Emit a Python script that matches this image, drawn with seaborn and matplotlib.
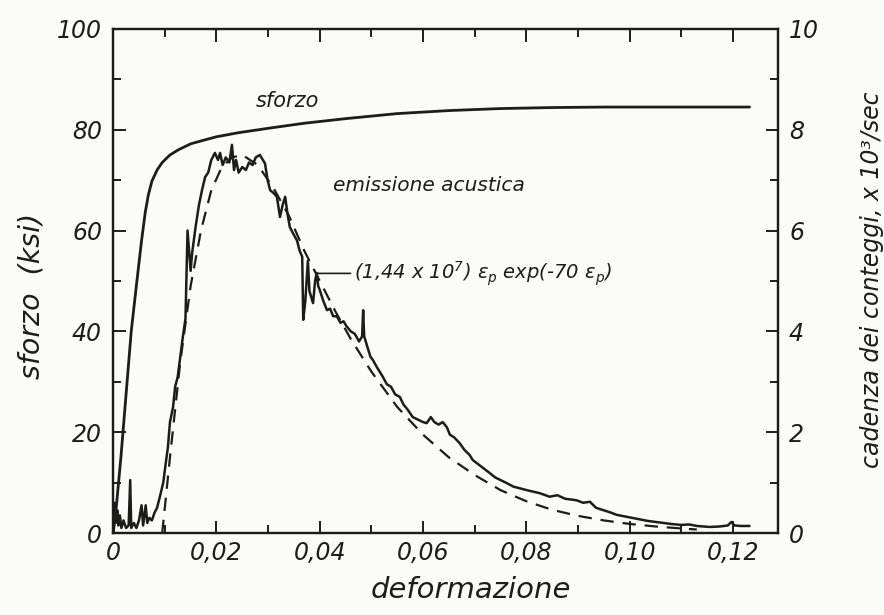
import matplotlib
matplotlib.use("Agg")
import matplotlib.pyplot as plt
from matplotlib.ticker import MultipleLocator, FixedLocator, FixedFormatter
import numpy as np
import pandas as pd
import seaborn as sns

# --- stress-strain curve (left axis, ksi) ---
stress_strain = [0.0, 0.0005, 0.0015, 0.0027, 0.0035, 0.0046, 0.0055, 0.0062,
                 0.0068, 0.0075, 0.0085, 0.0095, 0.011, 0.0126, 0.015, 0.0178,
                 0.020, 0.0242, 0.0308, 0.0371, 0.045, 0.055, 0.065, 0.075,
                 0.085, 0.095, 0.105, 0.115, 0.1232]
stress_ksi = [0.0, 4.0, 15.0, 30.0, 40.0, 50.0, 58.0, 63.5,
              67.0, 69.8, 72.0, 73.5, 75.0, 76.0, 77.2, 78.0,
              78.6, 79.4, 80.4, 81.3, 82.2, 83.2, 83.8, 84.2,
              84.4, 84.5, 84.5, 84.5, 84.5]

# --- measured acoustic emission count rate (right axis, x10^3/sec) ---
ae_strain = [0.0000, 0.0003, 0.0005, 0.0008, 0.0010, 0.0013, 0.0016, 0.0020,
             0.0025, 0.0030, 0.0033, 0.0035, 0.0040, 0.0045, 0.0050, 0.0055,
             0.0058, 0.0063, 0.0066, 0.0070, 0.0075, 0.0080, 0.0085, 0.0090,
             0.0097, 0.0102, 0.0106, 0.0110, 0.0116, 0.0120, 0.0125, 0.0130,
             0.0135, 0.0140, 0.0144, 0.0150, 0.0153, 0.0160, 0.0166, 0.0172,
             0.0178, 0.0184, 0.0190, 0.0197, 0.0203, 0.0207, 0.0212, 0.0218,
             0.0225, 0.0230, 0.0234, 0.0238, 0.0243, 0.0250, 0.0257, 0.0263,
             0.0270, 0.0276, 0.0284, 0.0290, 0.0294, 0.0299, 0.0304, 0.0310,
             0.0317, 0.0323, 0.0328, 0.0333, 0.0338, 0.0342, 0.0348, 0.0356,
             0.0361, 0.0366, 0.0368, 0.0372, 0.0377, 0.0380, 0.0387, 0.0391,
             0.0394, 0.0397, 0.0400, 0.0407, 0.0414, 0.0420, 0.0426, 0.0433,
             0.0440, 0.0446, 0.0452, 0.0460, 0.0468, 0.0476, 0.0482, 0.0484,
             0.0486, 0.0492, 0.0498, 0.0503, 0.0510, 0.0516, 0.0522, 0.0530,
             0.0538, 0.0546, 0.0555, 0.0562, 0.0570, 0.0580, 0.0590, 0.0600,
             0.0607, 0.0615, 0.0622, 0.0630, 0.0638, 0.0646, 0.0652, 0.0660,
             0.0671, 0.0680, 0.0690, 0.0696, 0.0705, 0.0715, 0.0729, 0.0740,
             0.0750, 0.0762, 0.0775, 0.0790, 0.0805, 0.0826, 0.0845, 0.0860,
             0.0875, 0.0897, 0.0910, 0.0923, 0.0935, 0.0950, 0.0965, 0.0975,
             0.0990, 0.1006, 0.1020, 0.1035, 0.1050, 0.1065, 0.1080, 0.1100,
             0.1115, 0.1130, 0.1155, 0.1175, 0.1190, 0.1197, 0.1203, 0.1215,
             0.1232]
ae_rate = [0.00, 0.60, 0.20, 0.45, 0.15, 0.35, 0.10, 0.25,
           0.10, 0.15, 1.05, 0.10, 0.20, 0.10, 0.25, 0.55,
           0.15, 0.55, 0.20, 0.30, 0.25, 0.40, 0.50, 0.70,
           1.00, 1.40, 1.70, 2.20, 2.50, 2.90, 3.10, 3.50,
           3.90, 4.25, 6.00, 5.20, 5.56, 6.10, 6.50, 6.80,
           7.06, 7.15, 7.40, 7.54, 7.40, 7.54, 7.30, 7.45,
           7.35, 7.70, 7.20, 7.40, 7.15, 7.26, 7.20, 7.35,
           7.30, 7.45, 7.50, 7.40, 7.33, 7.00, 6.80, 6.75,
           6.67, 6.27, 6.50, 6.67, 6.30, 6.07, 5.95, 5.80,
           5.60, 5.48, 4.23, 4.60, 5.40, 4.80, 4.56, 5.00,
           5.16, 4.90, 4.82, 4.60, 4.42, 4.45, 4.30, 4.30,
           4.17, 4.20, 4.10, 4.00, 3.95, 3.80, 3.90, 4.42,
           3.90, 3.70, 3.50, 3.43, 3.30, 3.20, 3.10, 2.95,
           2.90, 2.75, 2.70, 2.55, 2.45, 2.30, 2.25, 2.20,
           2.18, 2.30, 2.20, 2.15, 2.20, 2.10, 1.95, 1.90,
           1.78, 1.65, 1.55, 1.45, 1.38, 1.30, 1.19, 1.10,
           1.05, 0.99, 0.92, 0.88, 0.84, 0.79, 0.72, 0.75,
           0.68, 0.65, 0.60, 0.62, 0.50, 0.45, 0.40, 0.36,
           0.33, 0.30, 0.27, 0.24, 0.22, 0.20, 0.18, 0.16,
           0.17, 0.14, 0.12, 0.13, 0.15, 0.22, 0.15, 0.14,
           0.14]

# --- fitted curve (dashed) ---
fit_strain = [0.0095, 0.011, 0.013, 0.015, 0.017, 0.019, 0.021, 0.023, 0.025,
              0.028, 0.031, 0.034, 0.037, 0.040, 0.043, 0.046, 0.050, 0.055,
              0.060, 0.065, 0.070, 0.075, 0.080, 0.085, 0.090, 0.095, 0.100,
              0.105, 0.110, 0.113]
fit_rate = [0.0, 1.5, 3.4, 4.9, 6.0, 6.8, 7.25, 7.45, 7.5,
            7.3, 6.85, 6.3, 5.6, 5.0, 4.4, 3.85, 3.2, 2.5,
            1.95, 1.5, 1.15, 0.85, 0.63, 0.46, 0.34, 0.25, 0.18,
            0.13, 0.09, 0.07]

x_tick_values = [0.0, 0.02, 0.04, 0.06, 0.08, 0.10, 0.12]
x_tick_labels = ["0", "0,02", "0,04", "0,06", "0,08", "0,10", "0,12"]
left_ticks = [0, 20, 40, 60, 80, 100]
right_ticks = [0, 2, 4, 6, 8, 10]

sns.set_theme(style="ticks")
plt.rcParams["font.family"] = ["DejaVu Sans"]
plt.rcParams["font.style"] = "italic"
plt.rcParams["mathtext.fontset"] = "dejavusans"
plt.rcParams["mathtext.default"] = "it"

ink = "#1c1c1c"
paper = "#fbfbf9"

fig = plt.figure(figsize=(8.84, 6.15), dpi=100, facecolor=paper)
ax = fig.add_axes([0.128, 0.1333, 0.752, 0.8197])
ax.set_facecolor(paper)
ax2 = ax.twinx()

stress_df = pd.DataFrame({"strain": stress_strain, "stress": stress_ksi})
ae_df = pd.DataFrame({"strain": ae_strain, "rate": ae_rate})
fit_df = pd.DataFrame({"strain": fit_strain, "rate": fit_rate})

sns.lineplot(data=stress_df, x="strain", y="stress", ax=ax, color=ink,
             linewidth=2.0, sort=False, estimator=None)
sns.lineplot(data=fit_df, x="strain", y="rate", ax=ax2, color=ink,
             linewidth=1.6, sort=False, estimator=None, dashes=False)
ax2.lines[-1].set_linestyle((0, (6, 4)))
sns.lineplot(data=ae_df, x="strain", y="rate", ax=ax2, color=ink,
             linewidth=1.8, sort=False, estimator=None)

ax.set_xlim(0, 0.1287)
ax.set_ylim(0, 100)
ax2.set_ylim(0, 10)

ax.xaxis.set_major_locator(FixedLocator(x_tick_values))
ax.xaxis.set_major_formatter(FixedFormatter(x_tick_labels))
ax.xaxis.set_minor_locator(MultipleLocator(0.01))
ax.set_yticks(left_ticks)
ax.set_yticklabels([str(v) for v in left_ticks])
ax.yaxis.set_minor_locator(MultipleLocator(10))
ax2.set_yticks(right_ticks)
ax2.set_yticklabels([str(v) for v in right_ticks])
ax2.yaxis.set_minor_locator(MultipleLocator(1))

for a in (ax, ax2):
    a.tick_params(which="both", direction="in", color=ink, width=1.4,
                  labelsize=17, labelcolor=ink)
    a.tick_params(which="major", length=9)
    a.tick_params(which="minor", length=6)
    for s in a.spines.values():
        s.set_color(ink)
        s.set_linewidth(1.6)
ax.tick_params(axis="x", which="both", top=True, pad=6)
ax.tick_params(axis="y", pad=8)
ax2.tick_params(axis="y", pad=8)

ax.set_xlabel("deformazione", fontsize=21, color=ink)
ax.xaxis.set_label_coords(0.538, -0.086)
ax.set_ylabel("sforzo  (ksi)", fontsize=20.5, color=ink)
ax.yaxis.set_label_coords(-0.102, 0.47)
ax2.set_ylabel("cadenza dei conteggi, x 10³/sec", fontsize=17, color=ink)
ax2.yaxis.set_label_coords(1.124, 0.502)
ax.grid(False)
ax2.grid(False)

ax.text(0.0337, 85.7, "sforzo", fontsize=15, color=ink, ha="center",
        va="center")
ax2.text(0.0611, 6.9, "emissione acustica", fontsize=14.5, color=ink,
         ha="center", va="center")
ax2.annotate(r"(1,44 x 10$^7$) $\epsilon_p$ exp(-70 $\epsilon_p$)",
             xy=(0.0395, 5.15), xytext=(0.0466, 5.15), fontsize=14, color=ink,
             ha="left", va="center",
             arrowprops=dict(arrowstyle="-", color=ink, lw=1.2,
                             shrinkA=0, shrinkB=0))

fig.savefig("out.png", dpi=100, facecolor=paper)
